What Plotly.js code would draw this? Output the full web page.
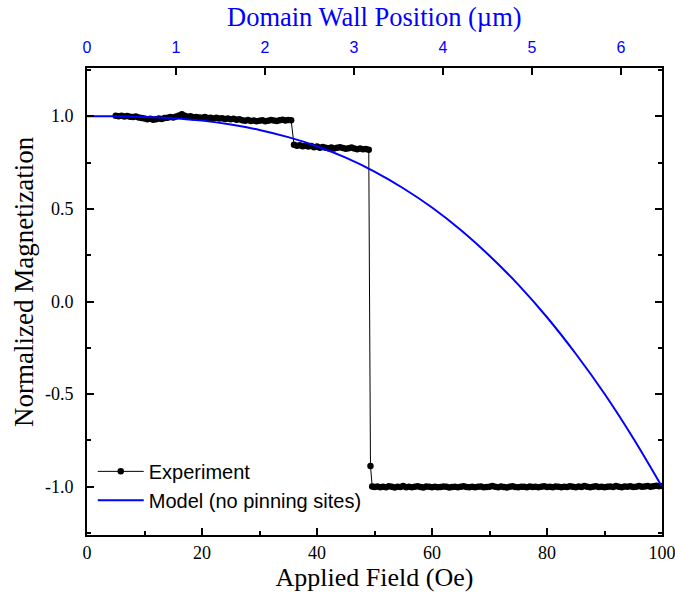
<!DOCTYPE html>
<html>
<head>
<meta charset="utf-8">
<script src="https://cdn.plot.ly/plotly-3.0.1.min.js"></script>
<style>html,body{margin:0;padding:0;background:#fff;}#chart{width:675px;height:596px;}</style>
</head>
<body>
<div id="chart"></div>
<script>
// Experiment: applied field (Oe) and normalized magnetization
const fieldExp = [
 5.0,5.5,6.0,6.5,7.0,7.5,8.0,8.5,9.0,9.5,10.0,10.5,11.0,11.5,12.0,12.5,13.0,13.5,14.0,14.5,
 15.0,15.5,16.0,16.5,17.0,17.5,18.0,18.5,19.0,19.5,20.0,20.5,21.0,21.5,22.0,22.5,23.0,23.5,24.0,24.5,
 25.0,25.5,26.0,26.5,27.0,27.5,28.0,28.5,29.0,29.5,30.0,30.5,31.0,31.5,32.0,32.5,33.0,33.5,34.0,34.5,
 35.0,35.5,
 36.0,36.5,37.0,37.5,38.0,38.5,39.0,39.5,40.0,40.5,41.0,41.5,42.0,42.5,43.0,43.5,44.0,44.5,45.0,45.5,
 46.0,46.5,47.0,47.5,48.0,48.5,49.0,
 49.3,49.6,
 50.0,50.5,51.0,51.5,52.0,52.5,53.0,53.5,54.0,54.5,55.0,55.5,56.0,56.5,57.0,57.5,58.0,58.5,59.0,59.5,
 60.0,60.5,61.0,61.5,62.0,62.5,63.0,63.5,64.0,64.5,65.0,65.5,66.0,66.5,67.0,67.5,68.0,68.5,69.0,69.5,
 70.0,70.5,71.0,71.5,72.0,72.5,73.0,73.5,74.0,74.5,75.0,75.5,76.0,76.5,77.0,77.5,78.0,78.5,79.0,79.5,
 80.0,80.5,81.0,81.5,82.0,82.5,83.0,83.5,84.0,84.5,85.0,85.5,86.0,86.5,87.0,87.5,88.0,88.5,89.0,89.5,
 90.0,90.5,91.0,91.5,92.0,92.5,93.0,93.5,94.0,94.5,95.0,95.5,96.0,96.5,97.0,97.5,98.0,98.5,99.0,99.5,
 100.0
];
const magExp = [
 1.002,1.000,1.003,0.998,1.001,0.997,0.995,0.998,0.993,0.990,0.988,0.984,0.986,0.981,0.983,0.987,0.985,0.990,0.992,0.995,
 0.993,0.998,1.004,1.010,1.003,0.997,0.999,0.994,0.996,0.993,0.991,0.995,0.990,0.992,0.988,0.991,0.987,0.989,0.985,0.988,
 0.984,0.986,0.981,0.984,0.978,0.975,0.979,0.974,0.977,0.972,0.975,0.978,0.973,0.976,0.980,0.977,0.974,0.978,0.981,0.977,
 0.979,0.978,
 0.846,0.840,0.843,0.838,0.841,0.836,0.839,0.833,0.836,0.830,0.834,0.829,0.827,0.831,0.826,0.829,0.833,0.828,0.824,0.827,
 0.831,0.826,0.822,0.825,0.821,0.823,0.819,
 -0.887,-0.998,
 -1.001,-0.998,-1.003,-0.999,-1.002,-0.997,-1.000,-1.004,-0.999,-1.001,-0.996,-1.002,-0.999,-1.003,-1.000,-0.997,-1.001,-1.004,-0.998,-1.000,
 -1.002,-0.999,-1.003,-1.001,-0.998,-1.000,-1.004,-1.001,-0.999,-1.002,-1.000,-0.997,-1.001,-1.003,-0.999,-1.002,-1.000,-0.998,-1.003,-1.001,
 -0.999,-0.996,-1.000,-1.002,-0.998,-1.001,-1.004,-1.000,-0.997,-1.001,-1.003,-0.999,-1.000,-1.002,-0.998,-1.001,-0.999,-1.003,-1.000,-0.997,
 -1.001,-0.999,-1.002,-0.998,-1.000,-1.003,-0.999,-1.001,-0.997,-1.000,-1.002,-0.998,-1.001,-0.996,-0.999,-1.002,-1.000,-0.997,-1.001,-0.999,
 -1.003,-1.000,-0.998,-1.001,-0.996,-0.999,-1.002,-0.998,-1.000,-0.997,-1.001,-0.999,-0.996,-1.000,-0.998,-0.995,-0.999,-0.997,-0.994,-0.997,
 -0.995
];

// Model (no pinning sites)
const fieldModel = [0,5,10,15,20,25,30,35,40,45,50,55,60,65,70,75,80,85,90,95,100];
const magModel = [1.000,0.9995,0.996,0.989,0.976,0.955,0.926,0.887,0.838,0.776,0.701,0.611,0.507,0.386,0.247,0.091,-0.085,-0.282,-0.498,-0.738,-1.000];

// Top axis: domain wall position (µm); tick labels
const wallRange = [0, 6.46];
const wallTicks = [0,1,2,3,4,5,6];
const magTicks = [-1.0,-0.5,0.0,0.5,1.0];
const magTickText = ["-1.0","-0.5","0.0","0.5","1.0"];
const topTitle = "Domain Wall Position (\u00b5m)";
const yTitle = "Normalized Magnetization";

const serif = "Liberation Serif";
const sans = "Liberation Sans";

const traces = [
  {x: fieldExp, y: magExp, name: "Experiment", type: "scatter", mode: "lines+markers",
    line: {color: "#000000", width: 1}, marker: {color: "#000000", size: 6.5}},
  {x: fieldModel, y: magModel, name: "Model (no pinning sites)", type: "scatter", mode: "lines",
    line: {color: "#0000ff", width: 2, shape: "spline"}},
  {x: wallRange, y: [0, 0], type: "scatter", mode: "lines", showlegend: false, hoverinfo: "skip",
    line: {color: "rgba(0,0,0,0)", width: 0}, xaxis: "x2", yaxis: "y"}
];

// y tick labels placed at the y-axis values, right-aligned just left of the axis
const yTickLabels = magTicks.map((v, i) => ({
  text: magTickText[i], xref: "paper", yref: "y", x: -0.019, y: v,
  xanchor: "right", yanchor: "middle", showarrow: false,
  font: {family: serif, size: 18, color: "#000000"}
}));

const layout = {
  width: 675, height: 596,
  margin: {l: 87, r: 13, t: 68, b: 61},
  paper_bgcolor: "#ffffff", plot_bgcolor: "#ffffff",
  font: {family: serif, size: 18, color: "#000000"},
  legend: {x: 0.01, y: 0.178, xanchor: "left", yanchor: "top", bgcolor: "rgba(0,0,0,0)",
    font: {family: sans, size: 20, color: "#000000"}, itemwidth: 46, tracegroupgap: 0},
  annotations: [
    {text: topTitle, xref: "paper", yref: "paper", x: 0.5, y: 1.109,
      xanchor: "center", yanchor: "middle", showarrow: false,
      font: {family: serif, size: 26.5, color: "#0000ff"}},
    {text: yTitle, xref: "paper", yref: "paper", x: -0.1096, y: 0.544, textangle: -90,
      xanchor: "center", yanchor: "middle", showarrow: false,
      font: {family: serif, size: 27, color: "#000000"}}
  ].concat(yTickLabels),
  xaxis: {range: [0, 100], dtick: 20, tick0: 0,
    ticks: "inside", ticklen: 7, tickwidth: 2, tickcolor: "#000",
    minor: {dtick: 10, ticks: "inside", ticklen: 4, tickwidth: 2, tickcolor: "#000"},
    showline: true, linecolor: "#000", linewidth: 2, showgrid: false, zeroline: false,
    ticklabeloverflow: "allow",
    tickfont: {family: serif, size: 18, color: "#000"},
    title: {text: "Applied Field (Oe)", font: {family: serif, size: 26, color: "#000"}, standoff: 6}},
  xaxis2: {overlaying: "x", side: "top", anchor: "y", range: wallRange, tickvals: wallTicks,
    ticks: "inside", ticklen: 7, tickwidth: 2, tickcolor: "#000",
    showline: true, linecolor: "#000", linewidth: 2, showgrid: false, zeroline: false,
    ticklabelstandoff: 7, tickfont: {family: sans, size: 16, color: "#0000ff"}},
  yaxis: {range: [-1.26, 1.26], tickvals: magTicks, showticklabels: false,
    ticks: "inside", ticklen: 7, tickwidth: 2, tickcolor: "#000",
    minor: {dtick: 0.25, tick0: 0, ticks: "inside", ticklen: 4, tickwidth: 2, tickcolor: "#000"},
    showline: true, linecolor: "#000", linewidth: 2, mirror: "ticks", showgrid: false, zeroline: false}
};
Plotly.newPlot("chart", traces, layout, {displayModeBar: false, staticPlot: true});
</script>
</body>
</html>
